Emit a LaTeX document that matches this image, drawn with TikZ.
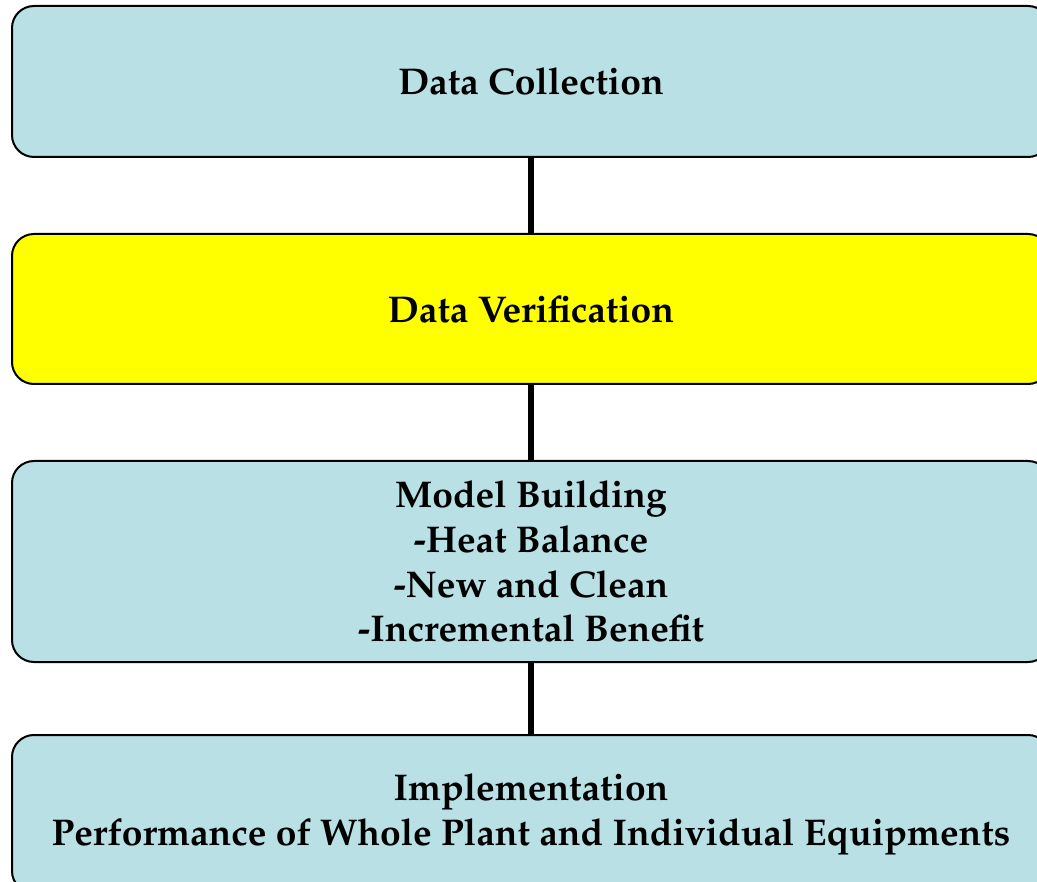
\documentclass[tikz,border=0pt]{standalone}
\usepackage[T1]{fontenc}
\usepackage{mathpazo}
\usepackage{tikz}

\definecolor{paleblue}{RGB}{185,224,228}
\definecolor{brightyellow}{RGB}{255,255,0}

\begin{document}
\begin{tikzpicture}[x=1pt,y=-1pt,
    stage/.style={draw=black,line width=2pt,rounded corners=22pt,fill=paleblue,
        minimum width=1038pt,align=center,inner sep=0pt,
        font=\bfseries\fontsize{37.2}{44.7}\selectfont}]
    \useasboundingbox (0,0) rectangle (1037,882);

    \node[stage,minimum height=151pt] (1) at (531,81.5) {Data Collection};
    \node[stage,minimum height=150pt,fill=brightyellow] (2) at (531,309) {Data Verification};
    \node[stage,minimum height=201pt] (3) at (531,561.5) {Model Building\\-Heat Balance\\-New and Clean\\-Incremental Benefit};
    \node[stage,minimum height=158pt] (4) at (531,814) {Implementation\\Performance of Whole Plant and Individual Equipments};

    \draw[line width=5.5pt] (1) -- (2) -- (3) -- (4);
\end{tikzpicture}
\end{document}
